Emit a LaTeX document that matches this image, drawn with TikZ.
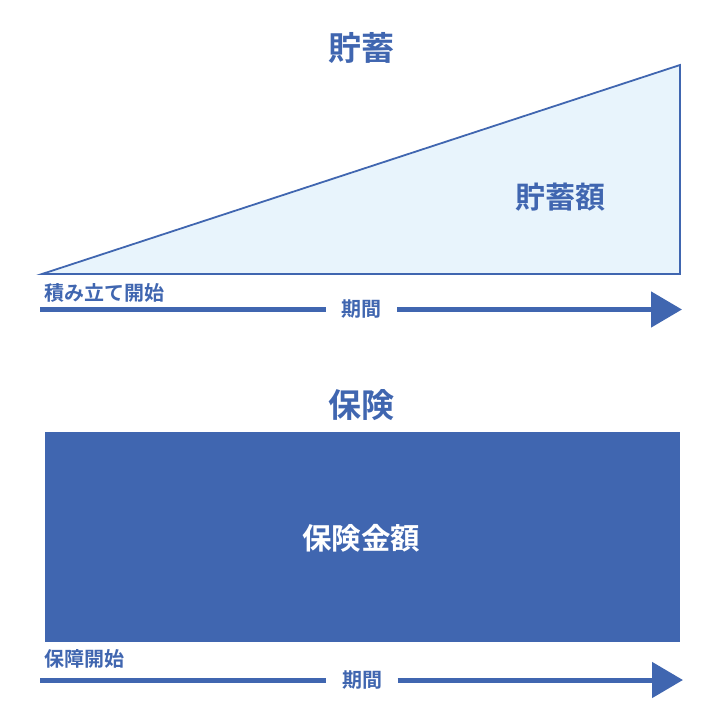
\documentclass[tikz,border=0pt]{standalone}
\usepackage{fontspec}
\newfontfamily\cjk{Noto Sans CJK JP}[BoldFont={Noto Sans CJK JP Bold}]
\usetikzlibrary{arrows.meta}
\definecolor{mainblue}{RGB}{64,102,176}
\definecolor{lightfill}{RGB}{232,244,252}
\tikzset{
  lbl/.style={font=\cjk\bfseries, text=mainblue, inner sep=0pt},
  period/.style={font=\cjk\bfseries\fontsize{20}{20}\selectfont, text=mainblue, inner xsep=15.5pt, inner ysep=0pt},
  axis/.style={draw=mainblue, line width=5pt},
  axisarrow/.style={axis, -{Triangle[length=31pt,width=35pt]}}
}
\begin{document}
\begin{tikzpicture}[x=1pt,y=-1pt]
\useasboundingbox (0,0) rectangle (723,712);
% savings
\node[lbl, font=\cjk\bfseries\fontsize{33}{33}\selectfont] (t1) at (361,48) {貯蓄};
\draw[draw=mainblue, fill=lightfill, line width=1.8pt, line join=miter] (42,274) -- (680,274) -- (680,65) -- cycle;
\node[lbl, font=\cjk\bfseries\fontsize{30}{30}\selectfont] (amt1) at (560,197.5) {貯蓄額};
\node[lbl, anchor=west, font=\cjk\bfseries\fontsize{20}{20}\selectfont] (start1) at (44,293) {積み立て開始};
\coordinate (s1) at (40,309.5);
\coordinate (e1) at (682,309.5);
\node[period] (p1) at (361.5,309) {期間};
\draw[axis] (s1) -- (p1.west |- s1);
\draw[axisarrow] (p1.east |- e1) -- (e1);
% insurance
\node[lbl, font=\cjk\bfseries\fontsize{33}{33}\selectfont] (t2) at (361,405) {保険};
\fill[mainblue] (45,432) rectangle (680,642);
\node[lbl, text=white, font=\cjk\bfseries\fontsize{29.5}{29.5}\selectfont] (amt2) at (361,538) {保険金額};
\node[lbl, anchor=west, font=\cjk\bfseries\fontsize{20}{20}\selectfont] (start2) at (44,659) {保障開始};
\coordinate (s2) at (40,680);
\coordinate (e2) at (683,680);
\node[period] (p2) at (362,680) {期間};
\draw[axis] (s2) -- (p2.west |- s2);
\draw[axisarrow] (p2.east |- e2) -- (e2);
\end{tikzpicture}
\end{document}
